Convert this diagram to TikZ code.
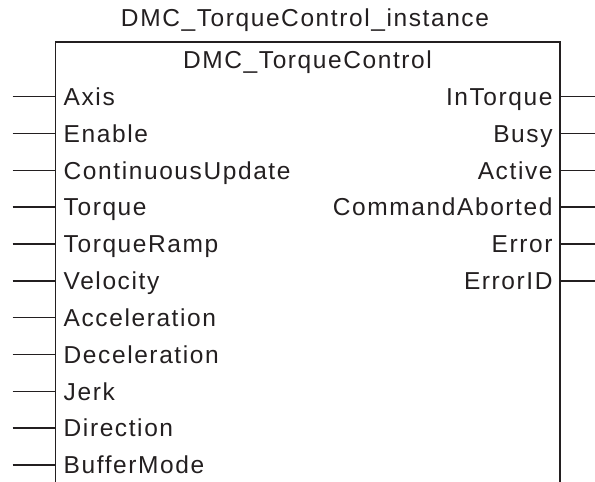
\documentclass[tikz,border=0pt]{standalone}
\usepackage{fontspec}
\setmainfont{Liberation Sans}[LetterSpace=6.5]
\definecolor{ink}{HTML}{231F20}
\begin{document}
\begin{tikzpicture}[x=1pt,y=-1pt,
  wire/.style={draw=ink, line width=1.4pt},
  lbl/.style={inner sep=0pt, font=\fontsize{24.5}{28}\selectfont, text=ink}]
\useasboundingbox (0,0) rectangle (595,482);
% block outline (open at bottom)
\coordinate (bl) at (55.5,482);
\coordinate (tl) at (55.5,41.7);
\coordinate (tr) at (560,41.7);
\coordinate (br) at (560,482);
\draw[wire, line width=1.6pt] (bl) -- (tl) -- (tr) -- (br);
% titles
\node[lbl, anchor=base] (inst) at (305,26.7) {DMC\_TorqueControl\_instance};
\node[lbl, anchor=base] (fb) at (307.5,68.2) {DMC\_TorqueControl};
% inputs
\foreach \t [count=\i from 0] in {Axis,Enable,ContinuousUpdate,Torque,TorqueRamp,Velocity,Acceleration,Deceleration,Jerk,Direction,BufferMode}{
  \pgfmathsetmacro\yy{96.7+36.83*\i}
  \coordinate (inA\i) at (12.7,\yy);
  \coordinate (inB\i) at (55.5,\yy);
  \draw[wire] (inA\i) -- (inB\i);
  \node[lbl, anchor=base west] (inL\i) at (63.5,\yy+8.7) {\t};
}
% outputs
\foreach \t [count=\i from 0] in {InTorque,Busy,Active,CommandAborted,Error,ErrorID}{
  \pgfmathsetmacro\yy{96.7+36.83*\i}
  \coordinate (outA\i) at (560,\yy);
  \coordinate (outB\i) at (595,\yy);
  \draw[wire] (outA\i) -- (outB\i);
  \node[lbl, anchor=base east] (outL\i) at (552.7,\yy+8.7) {\t};
}
\end{tikzpicture}
\end{document}
